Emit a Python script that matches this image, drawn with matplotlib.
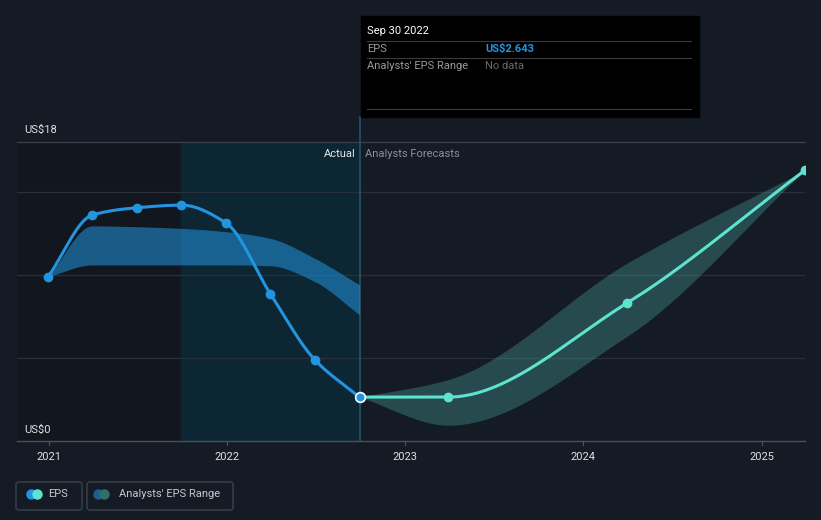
import numpy as np
import pandas as pd
import matplotlib
matplotlib.use("Agg")
import matplotlib.pyplot as plt
import matplotlib.dates as mdates
from matplotlib.patches import Rectangle, FancyBboxPatch
from matplotlib.lines import Line2D

plt.rcParams['font.family'] = ['Roboto', 'DejaVu Sans']

# --- Data ---
eps_dates = ["2020-12-31", "2021-03-31", "2021-06-30", "2021-09-30",
             "2021-12-31", "2022-03-31", "2022-06-30", "2022-09-30"]
eps_values = [9.9, 13.6, 14.04, 14.2, 13.11, 8.87, 4.9, 2.643]

past_range_upper = [9.9, 12.95, 12.9, 12.8, 12.6, 12.2, 11.0, 9.4]
past_range_lower = [9.9, 10.6, 10.6, 10.6, 10.6, 10.55, 9.6, 7.6]

fc_dates = ["2022-09-30", "2023-03-31", "2024-03-31", "2025-03-31"]
fc_values = [2.643, 2.643, 8.3, 16.3]
fc_upper = [2.643, 3.7, 10.7, 16.3]
fc_lower = [2.643, 0.95, 6.3, 16.3]

year_ticks = ["2021", "2022", "2023", "2024", "2025"]

# --- Colours ---
BG = '#151b25'
BLUE = '#2394df'
TEAL = '#5de3cf'
GRID = '#2a3039'

W, H = 821, 520


def fx(x):
    return x / W


def fy(y):
    return 1 - y / H


def monotone(xs, ys, n=300):
    # monotone cubic (Fritsch-Carlson) for a smooth line through the points
    xs = np.asarray(xs, float)
    ys = np.asarray(ys, float)
    h = np.diff(xs)
    d = np.diff(ys) / h
    m = np.zeros_like(ys)
    m[0], m[-1] = d[0], d[-1]
    for k in range(1, len(xs) - 1):
        if d[k - 1] * d[k] <= 0:
            m[k] = 0
        else:
            w1 = 2 * h[k] + h[k - 1]
            w2 = h[k] + 2 * h[k - 1]
            m[k] = (w1 + w2) / (w1 / d[k - 1] + w2 / d[k])
    xo, yo = [], []
    for k in range(len(xs) - 1):
        t = np.linspace(0, 1, n // (len(xs) - 1))
        h00 = 2 * t**3 - 3 * t**2 + 1
        h10 = t**3 - 2 * t**2 + t
        h01 = -2 * t**3 + 3 * t**2
        h11 = t**3 - t**2
        xo.append(xs[k] + t * h[k])
        yo.append(h00 * ys[k] + h10 * h[k] * m[k] + h01 * ys[k + 1] + h11 * h[k] * m[k + 1])
    return np.concatenate(xo), np.concatenate(yo)


ex = mdates.date2num(pd.to_datetime(eps_dates))
fcx = mdates.date2num(pd.to_datetime(fc_dates))
ticks_x = mdates.date2num(pd.to_datetime([y + "-01-01" for y in year_ticks]))

fig = plt.figure(figsize=(8.21, 5.2), dpi=100, facecolor=BG)
ax = fig.add_axes([fx(17), fy(441), fx(805) - fx(17), fy(142) - fy(441)])
ax.set_facecolor(BG)
ax.set_ylim(0, 18)
ax.set_xlim(mdates.date2num(pd.Timestamp("2020-10-28")), fcx[-1])
for s in ax.spines.values():
    s.set_visible(False)
ax.set_xticks([])
ax.set_yticks([])

# shaded regions
ax.axvspan(ax.get_xlim()[0], ex[3], color='#12171f', zorder=0)
ax.axvspan(ex[3], ex[-1], color='#0c2633', zorder=0)

# grid
for v in [5, 10, 15]:
    ax.axhline(v, color=GRID, lw=0.9, zorder=1)
ax.axhline(18, color='#3a414b', lw=0.9, zorder=1, clip_on=False)
ax.axhline(0, color='#4b515a', lw=1.0, zorder=1, clip_on=False)
for t in ticks_x:
    ax.plot([t, t], [0, -0.25], color='#4b515a', lw=0.9, clip_on=False)

# vertical "today" line up to the tooltip
ax.axvline(ex[-1], ymin=0, ymax=(441 - 117) / (441 - 142), color='#28536a',
           lw=1.2, clip_on=False, zorder=2)

# past analyst range
bx, bu = monotone(ex, past_range_upper)
_, bl = monotone(ex, past_range_lower)
ax.fill_between(bx, bl, bu, color=BLUE, alpha=0.55, lw=0, zorder=2)

# forecast range
fx_, fu = monotone(fcx, fc_upper)
_, fl = monotone(fcx, fc_lower)
ax.fill_between(fx_, fl, fu, color=TEAL, alpha=0.24, lw=0, zorder=2)

# EPS lines
lx, ly = monotone(ex, eps_values)
ax.plot(lx, ly, color=BLUE, lw=2.2, zorder=4, solid_capstyle='round')
ax.plot(ex[:-1], eps_values[:-1], 'o', color=BLUE, ms=6, zorder=5)
gx, gy = monotone(fcx, fc_values)
ax.plot(gx, gy, color=TEAL, lw=2.2, zorder=4)
ax.plot(fcx[1:], fc_values[1:], 'o', color=TEAL, ms=6, zorder=5)
ax.plot(ex[-1], eps_values[-1], 'o', color=BLUE, mec='white', mew=1.2, ms=7, zorder=6)

# labels inside the plot
ax.text(ex[-1] - 9, 17.25, "Actual", color='#e8e8e8', fontsize=8, ha='right', va='center')
ax.text(ex[-1] + 12, 17.25, "Analysts Forecasts", color='#8a8f96', fontsize=8, ha='left', va='center')

fig.text(fx(24), fy(130), "US$18", color='#e0e0e0', fontsize=8, va='center')
fig.text(fx(24), fy(430), "US$0", color='#e0e0e0', fontsize=8, va='center')

for t, lab in zip(ticks_x, year_ticks):
    ax.text(t, -0.95, lab, color='#e0e0e0', fontsize=8, ha='center', va='center')

# tooltip
fig.add_artist(Rectangle((fx(361), fy(117)), fx(699) - fx(361), fy(16) - fy(117),
                         transform=fig.transFigure, color='black', zorder=10))
for yy in [41, 58, 109]:
    fig.add_artist(Line2D([fx(367), fx(691)], [fy(yy), fy(yy)], transform=fig.transFigure,
                          color='#3a3a3a', lw=0.8, zorder=11))
fig.text(fx(367), fy(31), "Sep 30 2022", color='white', fontsize=8, va='center', zorder=12)
fig.text(fx(367), fy(49), "EPS", color='#9a9a9a', fontsize=8, va='center', zorder=12)
fig.text(fx(485), fy(49), "US$2.643", color=BLUE, fontsize=8, weight='bold', va='center', zorder=12)
fig.text(fx(367), fy(66), "Analysts' EPS Range", color='#9a9a9a', fontsize=8, va='center', zorder=12)
fig.text(fx(485), fy(66), "No data", color='#6a6a6a', fontsize=8, va='center', zorder=12)

# legend
for (x0, x1) in [(16, 82), (87, 233)]:
    fig.add_artist(FancyBboxPatch((fx(x0), fy(510)), fx(x1) - fx(x0), fy(482) - fy(510),
                                  boxstyle="round,pad=0,rounding_size=0.004",
                                  transform=fig.transFigure, fc='none', ec='#3c424b', lw=1))
for (cx, c) in [(31, BLUE), (37, TEAL), (98, '#1d5f8c'), (104, '#2f6f69')]:
    fig.add_artist(Line2D([fx(cx)], [fy(494)], transform=fig.transFigure, marker='o',
                          ms=7.5, color=c, mec='none'))
fig.text(fx(48), fy(494), "EPS", color='#c8c8c8', fontsize=8, va='center')
fig.text(fx(119), fy(494), "Analysts' EPS Range", color='#c8c8c8', fontsize=8, va='center')

fig.savefig("out.png", dpi=100, facecolor=BG)
